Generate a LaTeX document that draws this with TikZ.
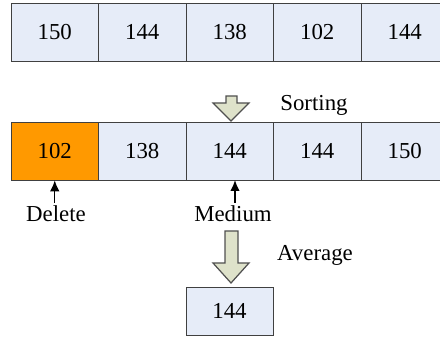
\documentclass[tikz,border=0pt]{standalone}
\usepackage{fontspec}
\usetikzlibrary{arrows.meta}
\setmainfont{Liberation Serif}
\definecolor{cellfill}{RGB}{230,236,248}
\definecolor{cellline}{RGB}{64,64,64}
\definecolor{delfill}{RGB}{255,153,0}
\definecolor{bigarrowfill}{RGB}{222,226,202}
\definecolor{bigarrowline}{RGB}{80,80,80}
\tikzset{
	cell/.style={draw=cellline, fill=cellfill, minimum width=1.75cm, minimum height=1.16cm, inner sep=0pt, font=\rmfamily\fontsize{13}{15}\selectfont},
	tag/.style={inner sep=1pt, font=\rmfamily\fontsize{13}{15}\selectfont},
	bigarrow/.style={draw=bigarrowline, fill=bigarrowfill, line width=0.7pt, line join=miter},
	pointer/.style={-{Latex[length=2.2mm, width=1.9mm]}, line width=0.8pt},
}
\begin{document}
\begin{tikzpicture}[x=0.02cm, y=-0.02cm]
		\useasboundingbox (0, 0) rectangle (440, 347);
		
		% input window
		\node[cell] (a1) at (54.75, 32) {150};
		\node[cell] (a2) at (142.25, 32) {144};
		\node[cell] (a3) at (229.75, 32) {138};
		\node[cell] (a4) at (317.25, 32) {102};
		\node[cell] (a5) at (404.75, 32) {144};
		
		\draw[bigarrow] (226, 96) -- (237, 96) -- (237, 103) -- (249, 103) -- (231, 121) -- (213, 103) -- (226, 103) -- cycle;
		\node[tag] (sorting) at (314, 105) {Sorting};
		
		% sorted window
		\node[cell, fill=delfill] (b1) at (54.75, 151) {102};
		\node[cell] (b2) at (142.25, 151) {138};
		\node[cell] (b3) at (229.75, 151) {144};
		\node[cell] (b4) at (317.25, 151) {144};
		\node[cell] (b5) at (404.75, 151) {150};
		
		\node[tag] (delete) at (56, 214) {Delete};
		\node[tag] (medium) at (233, 214) {Medium};
		\draw[pointer] (delete.north -| b1.south) ++(0, -1) -- (b1.south);
		\draw[pointer] (medium.north -| 235, 0) ++(0, -1) -- (235, 180) coordinate (mtip);
		
		\draw[bigarrow] (225, 231) -- (238, 231) -- (238, 263) -- (249, 263) -- (231, 283) -- (213, 263) -- (225, 263) -- cycle;
		\node[tag] (average) at (315, 255) {Average};
		
		% output
		\node[cell, minimum width=1.74cm, minimum height=0.96cm] (out) at (229.5, 311) {144};
	\end{tikzpicture}
\end{document}
